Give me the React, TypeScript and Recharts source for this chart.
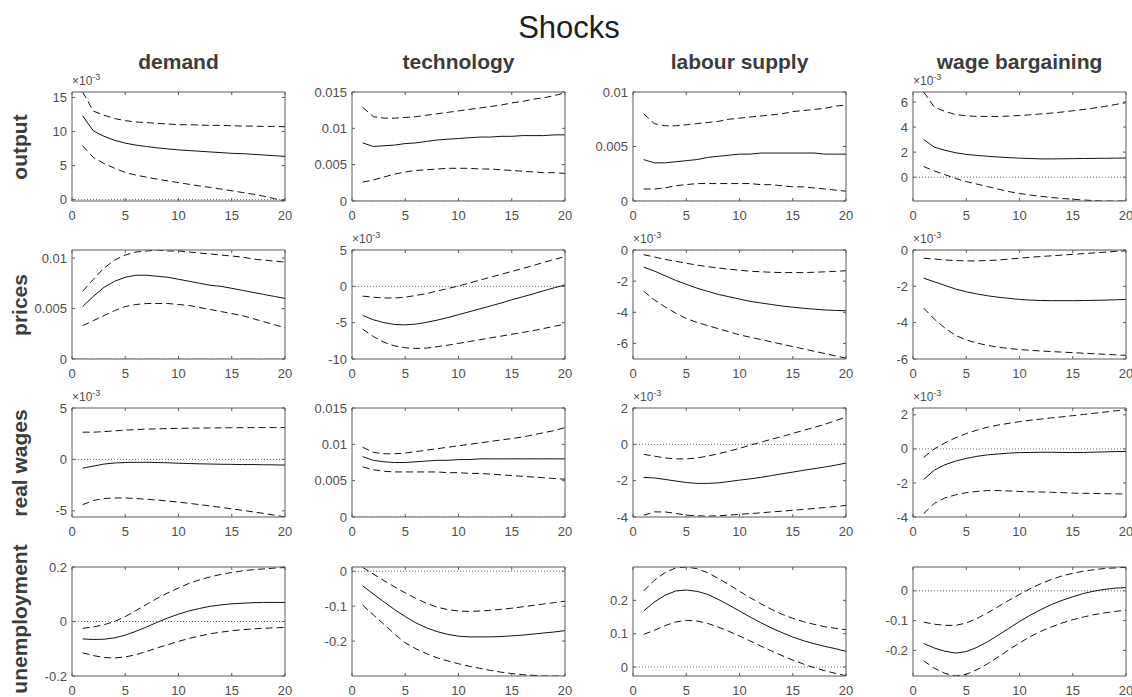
import React from 'react';
import { LineChart, Line, XAxis, YAxis, ReferenceLine } from 'recharts';

// ---------- data ----------
const periods = [1, 2, 3, 4, 5, 6, 7, 8, 9, 10, 11, 12, 13, 14, 15, 16, 17, 18, 19, 20];
const xTicks = [0, 5, 10, 15, 20];
const shockNames = ['demand', 'technology', 'labour supply', 'wage bargaining'];
const variableNames = ['output', 'prices', 'real wages', 'unemployment'];
const figureTitle = 'Shocks';

// output (row 1)
const outDemMid = [12.3, 10.1, 9.3, 8.7, 8.3, 8.0, 7.8, 7.6, 7.45, 7.3, 7.2, 7.1, 7.0, 6.9, 6.8, 6.75, 6.65, 6.55, 6.45, 6.35];
const outDemHi = [15.8, 13.0, 12.4, 11.9, 11.6, 11.4, 11.3, 11.2, 11.1, 11.0, 11.0, 10.95, 10.9, 10.9, 10.85, 10.8, 10.8, 10.75, 10.75, 10.7];
const outDemLo = [7.9, 6.2, 5.3, 4.6, 4.0, 3.6, 3.3, 3.0, 2.75, 2.5, 2.25, 2.0, 1.8, 1.55, 1.3, 1.05, 0.8, 0.5, 0.15, -0.2];

const outTecMid = [0.0080, 0.0075, 0.0076, 0.0077, 0.0079, 0.0080, 0.0082, 0.0084, 0.0085, 0.0086, 0.0087, 0.0088, 0.0088, 0.0089, 0.0089, 0.0090, 0.0090, 0.0090, 0.0091, 0.0091];
const outTecHi = [0.0129, 0.0116, 0.0114, 0.0114, 0.0115, 0.0116, 0.0118, 0.0120, 0.0122, 0.0124, 0.0126, 0.0128, 0.0130, 0.0132, 0.0135, 0.0137, 0.0140, 0.0142, 0.0145, 0.0149];
const outTecLo = [0.0026, 0.0029, 0.0033, 0.0037, 0.0040, 0.0042, 0.0043, 0.0044, 0.0045, 0.0045, 0.0045, 0.0044, 0.0044, 0.0043, 0.0042, 0.0041, 0.0040, 0.0039, 0.0039, 0.0038];

const outLabMid = [0.0038, 0.0035, 0.0035, 0.0036, 0.0037, 0.0038, 0.0040, 0.0041, 0.0042, 0.0043, 0.0043, 0.0044, 0.0044, 0.0044, 0.0044, 0.0044, 0.0044, 0.0043, 0.0043, 0.0043];
const outLabHi = [0.0080, 0.0071, 0.0069, 0.0069, 0.0070, 0.0071, 0.0072, 0.0073, 0.0075, 0.0076, 0.0077, 0.0078, 0.0079, 0.0080, 0.0082, 0.0083, 0.0084, 0.0085, 0.0087, 0.0088];
const outLabLo = [0.0011, 0.0011, 0.0012, 0.0014, 0.0015, 0.0016, 0.0016, 0.0016, 0.0016, 0.0016, 0.0016, 0.0015, 0.0015, 0.0014, 0.0013, 0.0013, 0.0012, 0.0011, 0.0010, 0.0009];

const outWagMid = [3.0, 2.4, 2.15, 1.95, 1.82, 1.74, 1.67, 1.61, 1.56, 1.52, 1.49, 1.46, 1.46, 1.47, 1.48, 1.49, 1.50, 1.51, 1.52, 1.53];
const outWagHi = [6.8, 5.6, 5.25, 5.0, 4.9, 4.85, 4.85, 4.85, 4.88, 4.92, 4.98, 5.05, 5.12, 5.2, 5.3, 5.4, 5.52, 5.65, 5.8, 5.95];
const outWagLo = [0.85, 0.5, 0.2, -0.1, -0.35, -0.55, -0.75, -0.95, -1.15, -1.3, -1.42, -1.53, -1.62, -1.7, -1.76, -1.82, -1.87, -1.9, -1.9, -1.9];

// prices (row 2)
const priDemMid = [0.0052, 0.0062, 0.0071, 0.0077, 0.0081, 0.0083, 0.0083, 0.0082, 0.0081, 0.0079, 0.0077, 0.0075, 0.0073, 0.0072, 0.0070, 0.0068, 0.0066, 0.0064, 0.0062, 0.0060];
const priDemHi = [0.0067, 0.0079, 0.0090, 0.0098, 0.0103, 0.0106, 0.0107, 0.0108, 0.0107, 0.0107, 0.0106, 0.0105, 0.0104, 0.0103, 0.0102, 0.0101, 0.0099, 0.0098, 0.0097, 0.0096];
const priDemLo = [0.0033, 0.0038, 0.0043, 0.0048, 0.0052, 0.0054, 0.0055, 0.0055, 0.0055, 0.0054, 0.0053, 0.0051, 0.0049, 0.0047, 0.0045, 0.0043, 0.0040, 0.0037, 0.0034, 0.0031];

const priTecMid = [-4.0, -4.6, -5.0, -5.25, -5.3, -5.2, -4.95, -4.65, -4.3, -3.9, -3.5, -3.1, -2.7, -2.3, -1.85, -1.45, -1.05, -0.6, -0.2, 0.2];
const priTecHi = [-1.35, -1.5, -1.6, -1.6, -1.5, -1.25, -1.0, -0.65, -0.3, 0.05, 0.45, 0.85, 1.25, 1.65, 2.05, 2.45, 2.85, 3.3, 3.7, 4.1];
const priTecLo = [-5.9, -6.9, -7.7, -8.2, -8.45, -8.55, -8.5, -8.3, -8.1, -7.85, -7.6, -7.35, -7.1, -6.85, -6.6, -6.35, -6.1, -5.8, -5.5, -5.2];

const priLabMid = [-1.1, -1.35, -1.65, -1.95, -2.2, -2.45, -2.65, -2.85, -3.0, -3.15, -3.3, -3.4, -3.5, -3.6, -3.67, -3.74, -3.8, -3.85, -3.88, -3.9];
const priLabHi = [-0.3, -0.45, -0.6, -0.72, -0.85, -0.97, -1.07, -1.15, -1.23, -1.3, -1.36, -1.4, -1.43, -1.45, -1.45, -1.45, -1.43, -1.4, -1.37, -1.33];
const priLabLo = [-2.65, -3.2, -3.65, -4.05, -4.4, -4.65, -4.85, -5.05, -5.25, -5.45, -5.6, -5.75, -5.9, -6.05, -6.2, -6.35, -6.5, -6.65, -6.8, -6.95];

const priWagMid = [-1.55, -1.75, -1.95, -2.15, -2.3, -2.42, -2.52, -2.6, -2.66, -2.72, -2.76, -2.78, -2.79, -2.79, -2.79, -2.78, -2.77, -2.76, -2.74, -2.72];
const priWagHi = [-0.45, -0.5, -0.55, -0.58, -0.6, -0.6, -0.58, -0.55, -0.5, -0.45, -0.4, -0.36, -0.32, -0.28, -0.24, -0.2, -0.16, -0.12, -0.08, -0.05];
const priWagLo = [-3.2, -3.8, -4.3, -4.7, -4.95, -5.12, -5.25, -5.35, -5.42, -5.48, -5.52, -5.56, -5.59, -5.62, -5.65, -5.68, -5.71, -5.74, -5.77, -5.8];

// real wages (row 3)
const rwDemMid = [-0.85, -0.65, -0.45, -0.35, -0.3, -0.28, -0.28, -0.3, -0.33, -0.37, -0.4, -0.43, -0.45, -0.47, -0.48, -0.5, -0.5, -0.52, -0.53, -0.55];
const rwDemHi = [2.65, 2.65, 2.7, 2.78, 2.85, 2.9, 2.95, 2.97, 3.0, 3.02, 3.04, 3.05, 3.06, 3.07, 3.08, 3.09, 3.09, 3.1, 3.1, 3.1];
const rwDemLo = [-4.4, -4.0, -3.8, -3.75, -3.75, -3.8, -3.87, -3.95, -4.05, -4.15, -4.27, -4.4, -4.53, -4.67, -4.8, -4.95, -5.1, -5.25, -5.42, -5.6];

const rwTecMid = [0.0083, 0.0078, 0.0076, 0.0075, 0.0075, 0.0076, 0.0077, 0.0078, 0.0078, 0.0079, 0.0079, 0.0080, 0.0080, 0.0080, 0.0080, 0.0080, 0.0080, 0.0080, 0.0080, 0.0080];
const rwTecHi = [0.0096, 0.0089, 0.0087, 0.0087, 0.0088, 0.0090, 0.0092, 0.0094, 0.0096, 0.0098, 0.0100, 0.0102, 0.0104, 0.0106, 0.0108, 0.0110, 0.0113, 0.0116, 0.0119, 0.0123];
const rwTecLo = [0.0069, 0.0065, 0.0063, 0.0062, 0.0062, 0.0062, 0.0062, 0.0062, 0.0061, 0.0061, 0.0060, 0.0060, 0.0059, 0.0058, 0.0057, 0.0056, 0.0055, 0.0054, 0.0053, 0.0052];

const rwLabMid = [-1.82, -1.85, -1.93, -2.02, -2.1, -2.15, -2.15, -2.12, -2.05, -1.97, -1.9, -1.82, -1.72, -1.62, -1.53, -1.43, -1.34, -1.25, -1.15, -1.03];
const rwLabHi = [-0.55, -0.65, -0.75, -0.8, -0.8, -0.75, -0.65, -0.52, -0.38, -0.22, -0.05, 0.12, 0.28, 0.43, 0.6, 0.77, 0.93, 1.1, 1.3, 1.5];
const rwLabLo = [-3.9, -3.72, -3.72, -3.8, -3.9, -3.93, -3.95, -3.93, -3.9, -3.85, -3.81, -3.77, -3.72, -3.68, -3.63, -3.58, -3.53, -3.48, -3.42, -3.36];

const rwWagMid = [-1.8, -1.25, -0.93, -0.72, -0.56, -0.44, -0.35, -0.3, -0.25, -0.22, -0.21, -0.2, -0.2, -0.21, -0.22, -0.21, -0.19, -0.18, -0.16, -0.15];
const rwWagHi = [-0.5, 0.0, 0.35, 0.65, 0.9, 1.1, 1.27, 1.4, 1.5, 1.6, 1.68, 1.75, 1.82, 1.88, 1.95, 2.02, 2.09, 2.16, 2.23, 2.3];
const rwWagLo = [-3.8, -3.2, -2.88, -2.7, -2.57, -2.5, -2.45, -2.45, -2.47, -2.5, -2.52, -2.53, -2.55, -2.57, -2.6, -2.61, -2.62, -2.63, -2.64, -2.65];

// unemployment (row 4)
const unDemMid = [-0.064, -0.066, -0.065, -0.06, -0.05, -0.036, -0.02, -0.003, 0.013, 0.027, 0.039, 0.048, 0.056, 0.061, 0.065, 0.067, 0.069, 0.07, 0.07, 0.07];
const unDemHi = [-0.025, -0.02, -0.012, 0.0, 0.018, 0.04, 0.063, 0.085, 0.105, 0.123, 0.14, 0.153, 0.164, 0.173, 0.18, 0.186, 0.19, 0.193, 0.196, 0.198];
const unDemLo = [-0.115, -0.125, -0.132, -0.134, -0.13, -0.122, -0.11, -0.097, -0.085, -0.073, -0.062, -0.053, -0.045, -0.039, -0.034, -0.03, -0.027, -0.025, -0.023, -0.022];

const unTecMid = [-0.042, -0.065, -0.088, -0.11, -0.13, -0.148, -0.162, -0.173, -0.181, -0.186, -0.188, -0.188, -0.188, -0.187, -0.185, -0.183, -0.18, -0.177, -0.174, -0.17];
const unTecHi = [0.011, -0.008, -0.027, -0.045, -0.062, -0.078, -0.092, -0.103, -0.11, -0.114, -0.115, -0.114, -0.112, -0.109, -0.106, -0.102, -0.098, -0.094, -0.09, -0.086];
const unTecLo = [-0.097, -0.125, -0.152, -0.18, -0.205, -0.222, -0.236, -0.248, -0.257, -0.265, -0.272, -0.278, -0.284, -0.289, -0.293, -0.296, -0.298, -0.3, -0.3, -0.3];

const unLabMid = [0.168, 0.195, 0.215, 0.228, 0.231, 0.227, 0.218, 0.203, 0.186, 0.168, 0.15, 0.133, 0.117, 0.103, 0.09, 0.079, 0.07, 0.062, 0.055, 0.047];
const unLabHi = [0.228, 0.26, 0.283, 0.297, 0.3, 0.295, 0.283, 0.266, 0.247, 0.227, 0.208, 0.19, 0.173, 0.158, 0.146, 0.136, 0.128, 0.121, 0.116, 0.112];
const unLabLo = [0.098, 0.11, 0.124, 0.135, 0.14, 0.138, 0.131, 0.12, 0.107, 0.093, 0.078, 0.063, 0.048, 0.034, 0.021, 0.009, -0.002, -0.011, -0.019, -0.026];

const unWagMid = [-0.177, -0.192, -0.203, -0.209, -0.204, -0.19, -0.171, -0.149, -0.126, -0.103, -0.082, -0.063, -0.046, -0.032, -0.02, -0.009, -0.001, 0.005, 0.009, 0.011];
const unWagHi = [-0.105, -0.112, -0.116, -0.116, -0.108, -0.093, -0.074, -0.053, -0.032, -0.012, 0.007, 0.024, 0.038, 0.05, 0.059, 0.066, 0.071, 0.075, 0.077, 0.079];
const unWagLo = [-0.235, -0.26, -0.277, -0.286, -0.28, -0.265, -0.245, -0.222, -0.198, -0.175, -0.154, -0.136, -0.121, -0.108, -0.097, -0.088, -0.08, -0.074, -0.069, -0.065];

// y-axis domains, ticks and whether the axis carries a x10^-3 multiplier
const panelDomains = [
  [[-0.2, 15.8], [0, 0.015], [0, 0.01], [-1.9, 6.8]],
  [[0, 0.0108], [-10, 5], [-7, 0], [-6, 0]],
  [[-5.6, 5], [0, 0.015], [-4, 2], [-4, 2.4]],
  [[-0.2, 0.2], [-0.3, 0.012], [-0.027, 0.3], [-0.286, 0.08]],
];
const panelTicks = [
  [[0, 5, 10, 15], [0, 0.005, 0.01, 0.015], [0, 0.005, 0.01], [0, 2, 4, 6]],
  [[0, 0.005, 0.01], [-10, -5, 0, 5], [-6, -4, -2, 0], [-6, -4, -2, 0]],
  [[-5, 0, 5], [0, 0.005, 0.01, 0.015], [-4, -2, 0, 2], [-4, -2, 0, 2]],
  [[-0.2, 0, 0.2], [-0.2, -0.1, 0], [0, 0.1, 0.2], [-0.2, -0.1, 0]],
];
const panelExponent = [
  [true, false, false, true],
  [false, true, true, true],
  [true, false, true, true],
  [false, false, false, false],
];
const panelSeries = [
  [[outDemMid, outDemHi, outDemLo], [outTecMid, outTecHi, outTecLo], [outLabMid, outLabHi, outLabLo], [outWagMid, outWagHi, outWagLo]],
  [[priDemMid, priDemHi, priDemLo], [priTecMid, priTecHi, priTecLo], [priLabMid, priLabHi, priLabLo], [priWagMid, priWagHi, priWagLo]],
  [[rwDemMid, rwDemHi, rwDemLo], [rwTecMid, rwTecHi, rwTecLo], [rwLabMid, rwLabHi, rwLabLo], [rwWagMid, rwWagHi, rwWagLo]],
  [[unDemMid, unDemHi, unDemLo], [unTecMid, unTecHi, unTecLo], [unLabMid, unLabHi, unLabLo], [unWagMid, unWagHi, unWagLo]],
];

// ---------- layout ----------
const colLeft = [72, 352, 633, 913];
const rowTop = [92, 250, 408, 567];
const PW = 213;
const PH = 109;
const YW = 44;
const XH = 28;
const MT = 6;
const MR = 14;

const FONT = '"Liberation Sans", Arial, Helvetica, sans-serif';
const AXIS = '#5a5a5a';
const TXT = '#4d4d4d';
const TITLE = '#3c3c3c';

function Panel({ r, c }: { r: number; c: number }) {
  const [mid, hi, lo] = panelSeries[r][c];
  const data = periods.map((p, i) => ({ x: p, mid: mid[i], hi: hi[i], lo: lo[i] }));
  const domain = panelDomains[r][c] as [number, number];
  const ticks = panelTicks[r][c];
  const fmt = (v: number) => String(v);
  const tickStyle = { fill: TXT, fontSize: 13, fontFamily: FONT };
  return (
    <div style={{ position: 'absolute', left: colLeft[c] - YW, top: rowTop[r] - MT }}>
      <LineChart
        width={YW + PW + MR}
        height={MT + PH + XH}
        data={data}
        margin={{ top: MT - 1, right: MR - 1, left: 0, bottom: 0 }}
      >
        <XAxis
          dataKey="x"
          type="number"
          domain={[0, 20]}
          ticks={xTicks}
          interval={0}
          allowDataOverflow
          height={XH}
          stroke={AXIS}
          tickSize={-3}
          tickMargin={13}
          tick={tickStyle}
        />
        <XAxis
          xAxisId="top"
          orientation="top"
          dataKey="x"
          type="number"
          domain={[0, 20]}
          ticks={xTicks}
          interval={0}
          allowDataOverflow
          height={1}
          stroke={AXIS}
          tickSize={-3}
          tickFormatter={() => ''}
        />
        <YAxis
          type="number"
          domain={domain}
          ticks={ticks}
          interval={0}
          allowDataOverflow
          width={YW}
          stroke={AXIS}
          tickSize={-3}
          tickMargin={8}
          tick={tickStyle}
          tickFormatter={fmt}
        />
        <YAxis
          yAxisId="right"
          orientation="right"
          type="number"
          domain={domain}
          ticks={ticks}
          interval={0}
          allowDataOverflow
          width={1}
          stroke={AXIS}
          tickSize={-3}
          tickFormatter={() => ''}
        />
        <ReferenceLine y={0} stroke="#6a6a6a" strokeWidth={1} strokeDasharray="1 2" ifOverflow="hidden" />
        <Line xAxisId="top" yAxisId="right" type="linear" dataKey="hi" stroke="#111" strokeWidth={1} strokeDasharray="7 4" dot={false} isAnimationActive={false} />
        <Line type="linear" dataKey="lo" stroke="#111" strokeWidth={1} strokeDasharray="7 4" dot={false} isAnimationActive={false} />
        <Line type="linear" dataKey="mid" stroke="#111" strokeWidth={1} dot={false} isAnimationActive={false} />
      </LineChart>
      {panelExponent[r][c] && (
        <div
          style={{
            position: 'absolute',
            left: YW,
            top: MT - 17,
            fontFamily: FONT,
            fontSize: 12,
            color: TXT,
            whiteSpace: 'nowrap',
            lineHeight: '13px',
          }}
        >
          ×10<sup style={{ fontSize: 9, verticalAlign: 'top', position: 'relative', top: -4 }}>-3</sup>
        </div>
      )}
    </div>
  );
}

export default function App() {
  return (
    <div style={{ position: 'absolute', left: 0, top: 0, width: 1132, height: 697, background: '#fff', overflow: 'hidden' }}>
      <div
        style={{
          position: 'absolute',
          left: 569 - 200,
          width: 400,
          top: 10,
          textAlign: 'center',
          fontFamily: FONT,
          fontSize: 31,
          color: '#1e1e1e',
        }}
      >
        {figureTitle}
      </div>
      {shockNames.map((s, c) => (
        <div
          key={s}
          style={{
            position: 'absolute',
            left: colLeft[c] - 60,
            width: PW + 120,
            top: 50,
            textAlign: 'center',
            fontFamily: FONT,
            fontWeight: 'bold',
            fontSize: 21,
            color: TITLE,
          }}
        >
          {s}
        </div>
      ))}
      {variableNames.map((v, r) => (
        <div
          key={v}
          style={{
            position: 'absolute',
            left: 20 - 110,
            top: (r === 3 ? rowTop[r] + PH / 2 - 3 : rowTop[r] + PH / 2) - 13,
            width: 220,
            height: 26,
            lineHeight: '26px',
            textAlign: 'center',
            fontFamily: FONT,
            fontWeight: 'bold',
            fontSize: 21,
            color: TITLE,
            transform: 'rotate(-90deg)',
          }}
        >
          {v}
        </div>
      ))}
      {panelSeries.map((row, r) => row.map((_, c) => <Panel key={`${r}-${c}`} r={r} c={c} />))}
    </div>
  );
}
